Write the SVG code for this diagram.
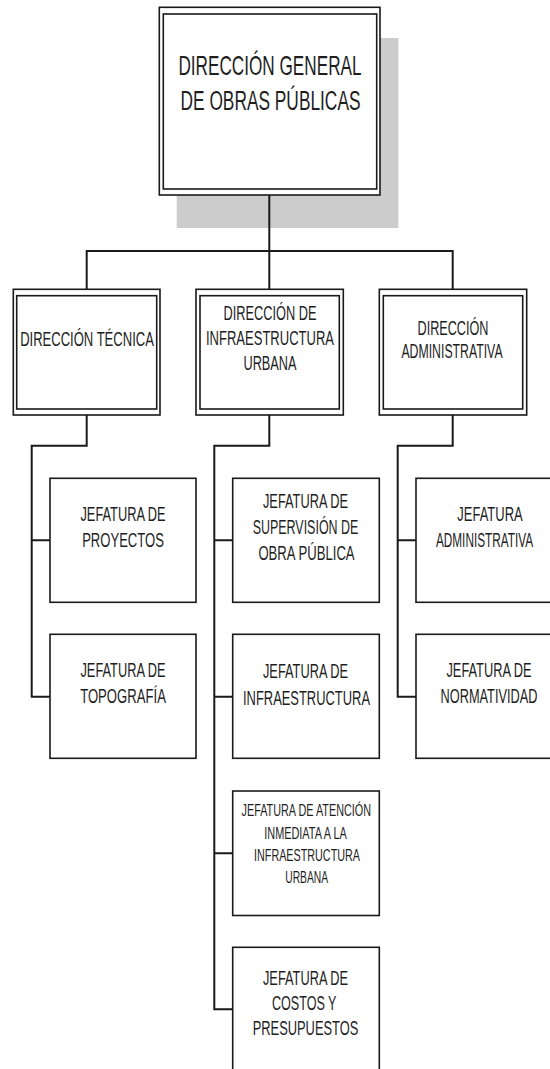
<svg xmlns="http://www.w3.org/2000/svg" width="550" height="1069" viewBox="0 0 550 1069">
<style>
.b{fill:#fff;stroke:#1a1a1a;stroke-width:1.6}
.bi{fill:none;stroke:#1a1a1a;stroke-width:1.6}
.c{fill:none;stroke:#1a1a1a;stroke-width:2}
text{font-family:"Liberation Sans",Arial,sans-serif;fill:#1e1e1e;text-anchor:middle}
.t1{font-size:28px}
.t2{font-size:21px}
.t3{font-size:20px}
.t4{font-size:16px}
</style>
<rect width="550" height="1069" fill="#fff"/>
<g id="n-general">
<rect x="176.7" y="38" width="221.6" height="190" fill="#cccccc"/>
<rect class="b" x="159.3" y="7.3" width="220.7" height="187.7"/>
<rect class="bi" x="163.3" y="14" width="213.4" height="175"/>
<text class="t1" transform="translate(270,75) scale(0.613,1)">DIRECCIÓN GENERAL</text>
<text class="t1" transform="translate(270.5,110) scale(0.619,1)">DE OBRAS PÚBLICAS</text>
</g>
<g id="connectors">
<path class="c" d="M269.3,195 V251 M86.7,289.3 V251 H452.7 V289.3 M269.3,251 V289.3"/>
<path class="c" d="M86.7,415 V445.7 H31.7 V696.7 H50 M31.7,540.3 H50"/>
<path class="c" d="M269.3,415 V445.7 H214.3 V1009.3 H232.7 M214.3,540.3 H232.7 M214.3,696.7 H232.7 M214.3,853.3 H232.7"/>
<path class="c" d="M452.7,415 V445.7 H397.7 V696.7 H416 M397.7,540.3 H416"/>
</g>
<g id="n-tecnica">
<rect class="b" x="13.3" y="289.3" width="146.7" height="125.7"/>
<rect class="bi" x="16.7" y="295.7" width="140" height="113.3"/>
<text class="t2" transform="translate(87,346) scale(0.621,1)">DIRECCIÓN TÉCNICA</text>
</g>
<g id="n-infra">
<rect class="b" x="196" y="289.3" width="147.3" height="125.7"/>
<rect class="bi" x="200" y="295.7" width="139.3" height="113.3"/>
<text class="t2" transform="translate(270,320) scale(0.609,1)">DIRECCIÓN DE</text>
<text class="t2" transform="translate(270,345) scale(0.62,1)">INFRAESTRUCTURA</text>
<text class="t2" transform="translate(270,370) scale(0.606,1)">URBANA</text>
</g>
<g id="n-admin">
<rect class="b" x="379.3" y="289.3" width="147.4" height="125.7"/>
<rect class="bi" x="383.3" y="295.7" width="139.4" height="113.3"/>
<text class="t2" transform="translate(453,335) scale(0.603,1)">DIRECCIÓN</text>
<text class="t2" transform="translate(452,358.3) scale(0.585,1)">ADMINISTRATIVA</text>
</g>
<g id="n-proyectos">
<rect class="b" x="50" y="478.3" width="146" height="124"/>
<text class="t3" transform="translate(123,520.7) scale(0.64,1)">JEFATURA DE</text>
<text class="t3" transform="translate(123,546.7) scale(0.653,1)">PROYECTOS</text>
</g>
<g id="n-topografia">
<rect class="b" x="50" y="634.3" width="146" height="124"/>
<text class="t3" transform="translate(123,677.3) scale(0.64,1)">JEFATURA DE</text>
<text class="t3" transform="translate(123,703.3) scale(0.656,1)">TOPOGRAFÍA</text>
</g>
<g id="n-supervision">
<rect class="b" x="232.7" y="478.3" width="146.6" height="124"/>
<text class="t3" transform="translate(305.5,508.3) scale(0.64,1)">JEFATURA DE</text>
<text class="t3" transform="translate(305.5,534.3) scale(0.623,1)">SUPERVISIÓN DE</text>
<text class="t3" transform="translate(306.5,560) scale(0.656,1)">OBRA PÚBLICA</text>
</g>
<g id="n-infraestructura">
<rect class="b" x="232.7" y="634.3" width="146.6" height="124"/>
<text class="t3" transform="translate(305.5,677.7) scale(0.64,1)">JEFATURA DE</text>
<text class="t3" transform="translate(306.5,705) scale(0.646,1)">INFRAESTRUCTURA</text>
</g>
<g id="n-atencion">
<rect class="b" x="232.7" y="791" width="146.6" height="124.5"/>
<text class="t4" transform="translate(306.3,816) scale(0.677,1)">JEFATURA DE ATENCIÓN</text>
<text class="t4" transform="translate(305.5,839) scale(0.681,1)">INMEDIATA A LA</text>
<text class="t4" transform="translate(307,860.7) scale(0.674,1)">INFRAESTRUCTURA</text>
<text class="t4" transform="translate(306.7,882.7) scale(0.645,1)">URBANA</text>
</g>
<g id="n-costos">
<rect class="b" x="232.7" y="947.3" width="146.6" height="124"/>
<text class="t3" transform="translate(305.5,985) scale(0.64,1)">JEFATURA DE</text>
<text class="t3" transform="translate(304.2,1010) scale(0.629,1)">COSTOS Y</text>
<text class="t3" transform="translate(305.5,1035) scale(0.644,1)">PRESUPUESTOS</text>
</g>
<g id="n-jadmin">
<rect class="b" x="416" y="478.3" width="146.7" height="124"/>
<text class="t3" transform="translate(490,520.7) scale(0.649,1)">JEFATURA</text>
<text class="t3" transform="translate(484.5,546.7) scale(0.59,1)">ADMINISTRATIVA</text>
</g>
<g id="n-normatividad">
<rect class="b" x="416" y="634.3" width="146.7" height="124"/>
<text class="t3" transform="translate(489,677.3) scale(0.64,1)">JEFATURA DE</text>
<text class="t3" transform="translate(489,703.3) scale(0.639,1)">NORMATIVIDAD</text>
</g>
</svg>
